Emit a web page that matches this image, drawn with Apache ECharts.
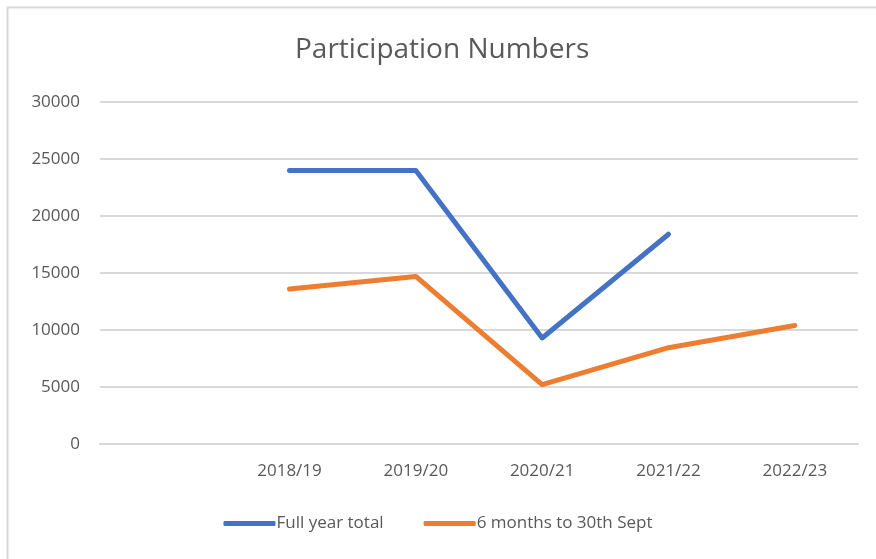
<!DOCTYPE html>
<html>
<head>
<meta charset="utf-8">
<script src="https://cdn.jsdelivr.net/npm/echarts@6/dist/echarts.min.js"></script>
<style>
  html, body { margin: 0; padding: 0; background: #fff; }
  #chart { width: 876px; height: 559px; }
</style>
</head>
<body>
<div id="chart"></div>
<script>
var categories = ['', '2018/19', '2019/20', '2020/21', '2021/22', '2022/23'];
var fullYear = [null, 24000, 24000, 9300, 18400, null];
var sixMonths = [null, 13600, 14700, 5200, 8450, 10400];

(function () {
    var mychart = echarts.init(document.getElementById('chart'));
    var font = '"Open Sans", "Noto Sans", sans-serif';

    var option = {
        backgroundColor: '#fff',
        textStyle: { fontFamily: font },
        graphic: [{
            type: 'rect',
            shape: { x: 7.5, y: 7.5, width: 880, height: 560 },
            style: { fill: null, stroke: '#d9d9d9', lineWidth: 2 },
            silent: true
        }],
        title: {
            text: 'Participation Numbers',
            left: 290,
            top: 31,
            textStyle: { fontFamily: font, fontSize: 28, fontWeight: 'normal', color: '#595959' }
        },
        legend: {
            bottom: 22,
            left: 'center',
            itemGap: 40,
            itemWidth: 52,
            itemHeight: 5,
            icon: 'roundRect',
            textStyle: { fontFamily: font, fontSize: 17, color: '#595959', padding: [0, 0, 0, -4] },
            data: ['Full year total', '6 months to 30th Sept']
        },
        grid: { left: 100, right: 18, top: 102, bottom: 115 },
        xAxis: {
            type: 'category',
            data: categories,
            boundaryGap: true,
            axisLine: { lineStyle: { color: '#d9d9d9', width: 2 } },
            axisTick: { show: false },
            axisLabel: { margin: 19, fontFamily: font, fontSize: 17, color: '#595959' }
        },
        yAxis: {
            type: 'value',
            min: 0,
            max: 30000,
            interval: 5000,
            axisLine: { show: false },
            axisTick: { show: false },
            splitLine: { lineStyle: { color: '#d9d9d9', width: 2 } },
            axisLabel: {
                margin: 20, fontFamily: font, fontSize: 17, color: '#595959',
                formatter: function (v) { return String(v); }
            }
        },
        series: [
            {
                name: 'Full year total',
                type: 'line',
                data: fullYear,
                showSymbol: false,
                symbol: 'none',
                color: '#4472c4',
                lineStyle: { width: 5, cap: 'round', join: 'round' }
            },
            {
                name: '6 months to 30th Sept',
                type: 'line',
                data: sixMonths,
                showSymbol: false,
                symbol: 'none',
                color: '#ed7d31',
                lineStyle: { width: 5, cap: 'round', join: 'round' }
            }
        ]
    };
    mychart.setOption(option);
})();
</script>
</body>
</html>
